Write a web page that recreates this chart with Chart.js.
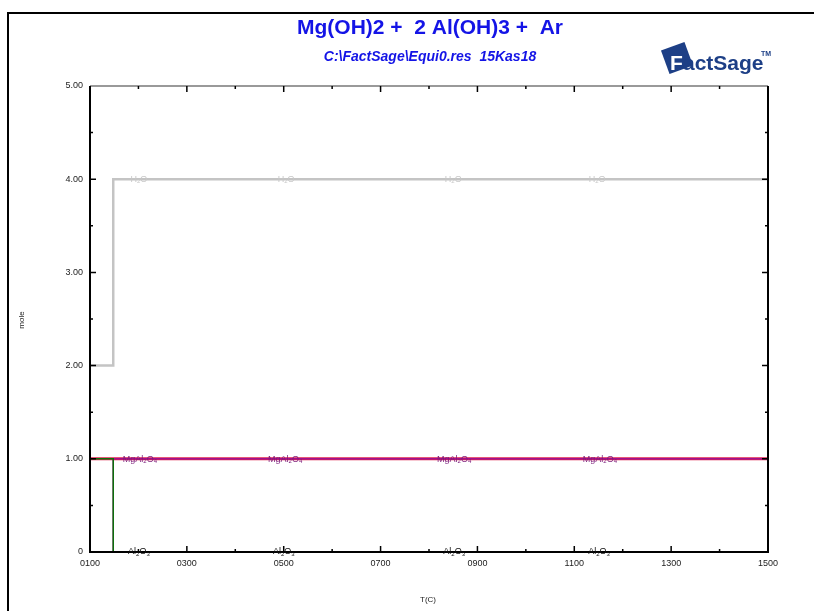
<!DOCTYPE html>
<html>
<head>
<meta charset="utf-8">
<script src="https://cdn.jsdelivr.net/npm/chart.js@4/dist/chart.umd.min.js"></script>
<style>
  html, body { margin: 0; padding: 0; background: #fff; }
  #wrap { width: 814px; height: 611px; }
</style>
</head>
<body>
<div id="wrap"><canvas id="chart"></canvas></div>
<script>
// temperatures (C) where the phase amounts change
const temps = [100, 148, 148, 1500];
// moles per phase
const h2o = [2, 2, 4, 4];
const mgal2o4 = [0, 0, 1, 1];
const ar = [1, 1, 1, 1];
const lowTPhase = [1, 1, 0, 0];
const al2o3 = [0, 0, 0, 0];

// where the curve labels sit along T
const h2oLabelT = [201, 505, 850, 1147];
const mgal2o4LabelT = [203, 503, 852, 1153];
const al2o3LabelT = [201, 500, 852, 1151];

const FONT = "Arial, 'Liberation Sans', sans-serif";

const pts = (ys) => temps.map((t, i) => ({ x: t, y: ys[i] }));

// chemical formula pieces: [text, isSubscript]
const H2O = [["H", 0], ["2", 1], ["O", 0]];
const MGAL2O4 = [["MgAl", 0], ["2", 1], ["O", 0], ["4", 1]];
const AL2O3 = [["Al", 0], ["2", 1], ["O", 0], ["3", 1]];

function drawChem(ctx, parts, cx, cy, color) {
  ctx.save();
  ctx.fillStyle = color;
  ctx.textBaseline = "middle";
  ctx.textAlign = "left";
  let w = 0;
  parts.forEach(([s, sub]) => {
    ctx.font = (sub ? "6px " : "9px ") + FONT;
    w += ctx.measureText(s).width;
  });
  let x = cx - w / 2;
  parts.forEach(([s, sub]) => {
    ctx.font = (sub ? "6px " : "9px ") + FONT;
    ctx.fillText(s, x, sub ? cy + 2 : cy);
    x += ctx.measureText(s).width;
  });
  ctx.restore();
}

const framePlugin = {
  id: "frame",
  beforeDraw(chart) {
    const { ctx } = chart;
    ctx.save();
    ctx.fillStyle = "#fff";
    ctx.fillRect(0, 0, chart.width, chart.height);
    ctx.strokeStyle = "#000";
    ctx.lineWidth = 2;
    ctx.beginPath();
    ctx.moveTo(8, chart.height);
    ctx.lineTo(8, 13);
    ctx.lineTo(chart.width, 13);
    ctx.stroke();

    // titles
    ctx.fillStyle = "#1414e6";
    ctx.textAlign = "center";
    ctx.textBaseline = "middle";
    ctx.font = "bold 21px " + FONT;
    ctx.fillText("Mg(OH)2 +  2 Al(OH)3 +  Ar", 430, 28);
    ctx.font = "italic bold 14px " + FONT;
    ctx.fillText("C:\\FactSage\\Equi0.res  15Kas18", 430, 57);

    // FactSage logo
    ctx.save();
    ctx.translate(677, 58);
    ctx.rotate(-0.35);
    ctx.fillStyle = "#1d3f86";
    ctx.fillRect(-12.5, -12.5, 25, 25);
    ctx.restore();
    ctx.font = "bold 21px " + FONT;
    ctx.textAlign = "left";
    ctx.textBaseline = "alphabetic";
    ctx.fillStyle = "#fff";
    ctx.fillText("F", 670, 70);
    ctx.fillStyle = "#1d3f86";
    ctx.fillText("actSage", 683, 70);
    ctx.font = "bold 7px " + FONT;
    ctx.fillText("TM", 761, 56);

    // axis titles
    ctx.fillStyle = "#222";
    ctx.font = "8px " + FONT;
    ctx.textAlign = "center";
    ctx.textBaseline = "middle";
    ctx.fillText("T(C)", 428, 600);
    ctx.translate(22, 320);
    ctx.rotate(-Math.PI / 2);
    ctx.fillText("mole", 0, 0);
    ctx.restore();
  },
  afterDatasetsDraw(chart) {
    const { ctx, chartArea: a, scales } = chart;
    const xs = scales.x, ys = scales.y;
    ctx.save();
    // plot box
    ctx.lineWidth = 1.5;
    ctx.strokeStyle = "#777";
    ctx.beginPath();
    ctx.moveTo(a.left, a.top);
    ctx.lineTo(a.right, a.top);
    ctx.stroke();
    ctx.lineWidth = 2;
    ctx.strokeStyle = "#000";
    ctx.beginPath();
    ctx.moveTo(a.left, a.top);
    ctx.lineTo(a.left, a.bottom);
    ctx.lineTo(a.right, a.bottom);
    ctx.lineTo(a.right, a.top);
    ctx.stroke();

    // inward ticks on all four sides
    ctx.lineWidth = 1.5;
    xs.ticks.forEach((t) => {
      if (t.value === xs.min || t.value === xs.max) return;
      const px = xs.getPixelForValue(t.value);
      const len = t.value % 200 === 100 ? 6 : 3;
      ctx.beginPath();
      ctx.moveTo(px, a.bottom);
      ctx.lineTo(px, a.bottom - len);
      ctx.moveTo(px, a.top);
      ctx.lineTo(px, a.top + len);
      ctx.stroke();
    });
    ys.ticks.forEach((t) => {
      if (t.value === ys.min || t.value === ys.max) return;
      const py = ys.getPixelForValue(t.value);
      const len = Number.isInteger(t.value) ? 6 : 3;
      ctx.beginPath();
      ctx.moveTo(a.left, py);
      ctx.lineTo(a.left + len, py);
      ctx.moveTo(a.right, py);
      ctx.lineTo(a.right - len, py);
      ctx.stroke();
    });
    ctx.restore();

    // curve labels
    h2oLabelT.forEach((t) =>
      drawChem(ctx, H2O, xs.getPixelForValue(t), ys.getPixelForValue(4), "#c8c8c8"));
    mgal2o4LabelT.forEach((t) =>
      drawChem(ctx, MGAL2O4, xs.getPixelForValue(t), ys.getPixelForValue(1) + 1, "#7a1a7a"));
    al2o3LabelT.forEach((t) =>
      drawChem(ctx, AL2O3, xs.getPixelForValue(t), ys.getPixelForValue(0), "#111"));
  },
};

const line = (label, ys, color, width, order) => ({
  label,
  data: pts(ys),
  borderColor: color,
  borderWidth: width,
  showLine: true,
  pointRadius: 0,
  tension: 0,
  fill: false,
  order,
});

new Chart(document.getElementById("chart"), {
  type: "scatter",
  data: {
    datasets: [
      line("H2O", h2o, "#c4c4c4", 2.5, 0),
      line("phase", lowTPhase, "#0a700a", 1.5, 1),
      line("MgAl2O4", mgal2o4, "#a0108e", 1.5, 2),
      line("Ar", ar, "#e0204a", 3, 3),
      line("Al2O3", al2o3, "#000", 1.5, 4),
    ],
  },
  options: {
    responsive: true,
    maintainAspectRatio: false,
    animation: false,
    layout: { padding: { left: 0, right: 46, top: 86, bottom: 0 } },
    plugins: { legend: { display: false }, tooltip: { enabled: false } },
    scales: {
      x: {
        type: "linear",
        min: 100,
        max: 1500,
        afterFit: (s) => { s.height = 59; },
        grid: { display: false, drawTicks: false },
        border: { display: false },
        ticks: {
          stepSize: 100,
          autoSkip: false,
          maxRotation: 0,
          padding: 6,
          color: "#222",
          font: { family: FONT, size: 9 },
          callback: (v) => (v % 200 === 100 ? String(v).padStart(4, "0") : ""),
        },
      },
      y: {
        min: 0,
        max: 5,
        afterFit: (s) => { s.width = 90; },
        grid: { display: false, drawTicks: false },
        border: { display: false },
        ticks: {
          stepSize: 0.5,
          autoSkip: false,
          padding: 7,
          color: "#222",
          font: { family: FONT, size: 9 },
          callback: (v) => (v === 0 ? "0" : Number.isInteger(v) ? v.toFixed(2) : ""),
        },
      },
    },
  },
  plugins: [framePlugin],
});
</script>
</body>
</html>
